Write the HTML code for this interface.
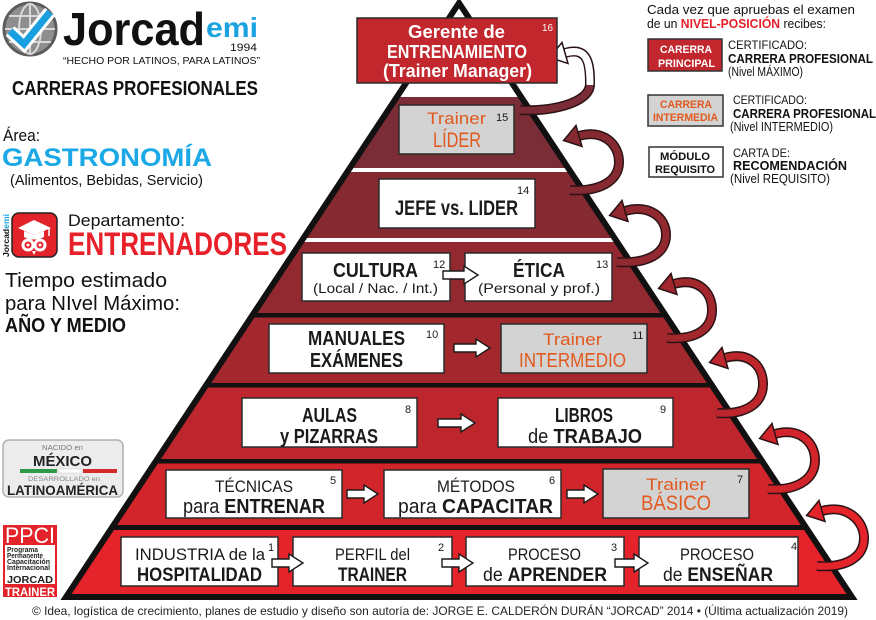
<!DOCTYPE html>
<html><head><meta charset="utf-8">
<style>
html,body{margin:0;padding:0;background:#fff;}
svg{display:block;}
text{font-family:"Liberation Sans",sans-serif;}
</style></head><body>
<svg width="876" height="620" viewBox="0 0 876 620" xmlns="http://www.w3.org/2000/svg">
<defs>
<clipPath id="tri"><polygon points="459,3 66,597 852,597"/></clipPath>
</defs>
<rect width="876" height="620" fill="#fff"/>

<!-- ============ PYRAMID ============ -->
<g clip-path="url(#tri)">
<rect x="0" y="97" width="876" height="73" fill="#7a2d36"/>
<rect x="0" y="170" width="876" height="70" fill="#862a32"/>
<rect x="0" y="240" width="876" height="75" fill="#932930"/>
<rect x="0" y="315" width="876" height="70" fill="#a3282e"/>
<rect x="0" y="385" width="876" height="76" fill="#bd262c"/>
<rect x="0" y="461" width="876" height="67" fill="#d2252b"/>
<rect x="0" y="528" width="876" height="72" fill="#e5232a"/>
<rect x="0" y="168" width="876" height="4" fill="#fff"/>
<rect x="0" y="238" width="876" height="4" fill="#fff"/>
<rect x="0" y="313" width="876" height="4.5" fill="#111"/>
<rect x="0" y="383" width="876" height="4.5" fill="#111"/>
<rect x="0" y="459" width="876" height="4.5" fill="#111"/>
<rect x="0" y="525" width="876" height="5" fill="#111"/>
</g>
<polygon points="459,3 66,597 852,597" fill="none" stroke="#111" stroke-width="6" stroke-linejoin="miter"/>

<!-- ============ CURVED ARROWS ============ -->
<g fill="none" stroke-linecap="butt">
<!-- arrow 1 -->
<path d="M520 110 C548 112 590 104 590 84" stroke="#2a1215" stroke-width="10"/>
<path d="M520 110 C548 112 590 104 590 84" stroke="#7a2d36" stroke-width="7"/>
<path d="M590 84 C590 66 589 46 565 53" stroke="#2a1215" stroke-width="10"/>
<path d="M590 85 C590 66 589 46 565 53" stroke="#fff" stroke-width="7"/>
<!-- arrow 2 -->
<path d="M570 190 C598 192 619 182 619 162 C619 144 603 129 579 136" stroke="#2a1215" stroke-width="10"/>
<path d="M570 190 C598 192 619 182 619 162 C619 144 603 129 579 136" stroke="#862a32" stroke-width="7"/>
<!-- arrow 3 -->
<path d="M617 262 C645 264 666 255 666 235 C666 217 649 204 625 211" stroke="#2a1215" stroke-width="10"/>
<path d="M617 262 C645 264 666 255 666 235 C666 217 649 204 625 211" stroke="#932930" stroke-width="7"/>
<!-- arrow 4 -->
<path d="M667 338 C695 340 712 330 712 310 C712 292 698 277 674 284" stroke="#2a1215" stroke-width="10"/>
<path d="M667 338 C695 340 712 330 712 310 C712 292 698 277 674 284" stroke="#a3282e" stroke-width="7"/>
<!-- arrow 5 -->
<path d="M717 413 C745 415 763 404 763 384 C763 366 749 351 725 358" stroke="#2a1215" stroke-width="10"/>
<path d="M717 413 C745 415 763 404 763 384 C763 366 749 351 725 358" stroke="#bd262c" stroke-width="7"/>
<!-- arrow 6 -->
<path d="M768 489 C796 491 815 480 815 460 C815 442 799 427 775 434" stroke="#2a1215" stroke-width="10"/>
<path d="M768 489 C796 491 815 480 815 460 C815 442 799 427 775 434" stroke="#d2252b" stroke-width="7"/>
<!-- arrow 7 -->
<path d="M817 566 C845 568 864 558 864 538 C864 520 846 504 822 511" stroke="#2a1215" stroke-width="10"/>
<path d="M817 566 C845 568 864 558 864 538 C864 520 846 504 822 511" stroke="#e5232a" stroke-width="7"/>
</g>
<g stroke="#2a1215" stroke-width="1.5" stroke-linejoin="miter">
<polygon points="549.6,57.5 562,42.5 568,63.5" fill="#fff"/>
<polygon points="563.6,140.5 576,125.5 582,146.5" fill="#862a32"/>
<polygon points="609.6,215.5 622,200.5 628,221.5" fill="#932930"/>
<polygon points="658.6,288.5 671,273.5 677,294.5" fill="#a3282e"/>
<polygon points="709.6,362.5 722,347.5 728,368.5" fill="#bd262c"/>
<polygon points="759.6,438.5 772,423.5 778,444.5" fill="#d2252b"/>
<polygon points="806.6,515.5 819,500.5 825,521.5" fill="#e5232a"/>
</g>

<!-- ============ BOXES ============ -->
<g stroke="#2b2b2b" stroke-width="1.5">
<rect x="357" y="18" width="200" height="65" fill="#c1272d"/>
<rect x="399" y="105" width="115" height="49" fill="#d3d3d3"/>
<rect x="379" y="179" width="156" height="49" fill="#fff"/>
<rect x="302" y="253" width="148" height="48" fill="#fff"/>
<rect x="465" y="253" width="147" height="48" fill="#fff"/>
<rect x="269" y="324" width="175" height="49" fill="#fff"/>
<rect x="501" y="324" width="146" height="49" fill="#d3d3d3"/>
<rect x="242" y="398" width="175" height="49" fill="#fff"/>
<rect x="498" y="398" width="175" height="49" fill="#fff"/>
<rect x="166" y="470" width="176" height="48" fill="#fff"/>
<rect x="384" y="470" width="177" height="48" fill="#fff"/>
<rect x="603" y="469" width="146" height="49" fill="#d3d3d3"/>
<rect x="121" y="537" width="157" height="49" fill="#fff"/>
<rect x="293" y="537" width="159" height="49" fill="#fff"/>
<rect x="466" y="537" width="158" height="49" fill="#fff"/>
<rect x="639" y="537" width="159" height="49" fill="#fff"/>
</g>

<!-- straight arrows -->
<g fill="#fff" stroke="#1a1a1a" stroke-width="1.4" stroke-linejoin="miter">
<polygon points="443,271 464,271 464,266 478,275 464,284 464,279 443,279"/>
<polygon points="454,344 476,344 476,339 490,348 476,357 476,352 454,352"/>
<polygon points="438,419 461,419 461,414 475,423 461,432 461,427 438,427"/>
<polygon points="347,490 364,490 364,485 378,494 364,503 364,498 347,498"/>
<polygon points="567,490 584,490 584,485 598,494 584,503 584,498 567,498"/>
<polygon points="272,559 289,559 289,554 303,563 289,572 289,567 272,567"/>
<polygon points="442,559 459,559 459,554 473,563 459,572 459,567 442,567"/>
<polygon points="615,559 634,559 634,554 648,563 634,572 634,567 615,567"/>
</g>

<!-- box texts -->
<g fill="#fff" font-weight="bold" font-size="18">
<text x="408" y="38" textLength="97" lengthAdjust="spacingAndGlyphs">Gerente de</text>
<text x="387" y="58" textLength="140" lengthAdjust="spacingAndGlyphs">ENTRENAMIENTO</text>
<text x="383" y="77" textLength="149" lengthAdjust="spacingAndGlyphs">(Trainer Manager)</text>
<text x="542" y="31" font-size="10" font-weight="normal" textLength="11" lengthAdjust="spacingAndGlyphs">16</text>
</g>

<g fill="#e2591e">
<text x="427" y="124" font-size="17" textLength="59" lengthAdjust="spacingAndGlyphs">Trainer</text>
<text x="433" y="147" font-size="21" textLength="48" lengthAdjust="spacingAndGlyphs">LÍDER</text>
<text x="543" y="345" font-size="17" textLength="59" lengthAdjust="spacingAndGlyphs">Trainer</text>
<text x="519" y="367" font-size="20" textLength="107" lengthAdjust="spacingAndGlyphs">INTERMEDIO</text>
<text x="646" y="490" font-size="17" textLength="60" lengthAdjust="spacingAndGlyphs">Trainer</text>
<text x="641" y="510" font-size="21" textLength="70" lengthAdjust="spacingAndGlyphs">BÁSICO</text>
</g>

<g fill="#1a1a1a">
<text x="395" y="215" font-size="21" font-weight="bold" textLength="123" lengthAdjust="spacingAndGlyphs">JEFE vs. LIDER</text>

<text x="333" y="277" font-size="20" font-weight="bold" textLength="85" lengthAdjust="spacingAndGlyphs">CULTURA</text>
<text x="313" y="293" font-size="14" textLength="125" lengthAdjust="spacingAndGlyphs">(Local / Nac. / Int.)</text>
<text x="513" y="277" font-size="20" font-weight="bold" textLength="52" lengthAdjust="spacingAndGlyphs">ÉTICA</text>
<text x="478" y="293" font-size="14" textLength="122" lengthAdjust="spacingAndGlyphs">(Personal y prof.)</text>

<text x="308" y="345" font-size="20" font-weight="bold" textLength="97" lengthAdjust="spacingAndGlyphs">MANUALES</text>
<text x="310" y="367" font-size="20" font-weight="bold" textLength="93" lengthAdjust="spacingAndGlyphs">EXÁMENES</text>

<text x="302" y="422" font-size="20" font-weight="bold" textLength="55" lengthAdjust="spacingAndGlyphs">AULAS</text>
<text x="280" y="443" font-size="20" font-weight="bold" textLength="98" lengthAdjust="spacingAndGlyphs">y PIZARRAS</text>
<text x="555" y="422" font-size="20" font-weight="bold" textLength="58" lengthAdjust="spacingAndGlyphs">LIBROS</text>
<text x="528" y="443" font-size="20" textLength="114" lengthAdjust="spacingAndGlyphs">de <tspan font-weight="bold">TRABAJO</tspan></text>

<text x="215" y="492" font-size="17" textLength="78" lengthAdjust="spacingAndGlyphs">TÉCNICAS</text>
<text x="183" y="513" font-size="20" textLength="142" lengthAdjust="spacingAndGlyphs">para <tspan font-weight="bold">ENTRENAR</tspan></text>
<text x="437" y="492" font-size="17" textLength="78" lengthAdjust="spacingAndGlyphs">MÉTODOS</text>
<text x="398" y="513" font-size="20" textLength="155" lengthAdjust="spacingAndGlyphs">para <tspan font-weight="bold">CAPACITAR</tspan></text>

<text x="135" y="560" font-size="17" textLength="130" lengthAdjust="spacingAndGlyphs">INDUSTRIA de la</text>
<text x="137" y="581" font-size="19" font-weight="bold" textLength="125" lengthAdjust="spacingAndGlyphs">HOSPITALIDAD</text>
<text x="335" y="560" font-size="17" textLength="75" lengthAdjust="spacingAndGlyphs">PERFIL del</text>
<text x="338" y="581" font-size="19" font-weight="bold" textLength="69" lengthAdjust="spacingAndGlyphs">TRAINER</text>
<text x="508" y="560" font-size="17" textLength="73" lengthAdjust="spacingAndGlyphs">PROCESO</text>
<text x="483" y="581" font-size="19" textLength="124" lengthAdjust="spacingAndGlyphs">de <tspan font-weight="bold">APRENDER</tspan></text>
<text x="680" y="560" font-size="17" textLength="74" lengthAdjust="spacingAndGlyphs">PROCESO</text>
<text x="663" y="581" font-size="19" textLength="110" lengthAdjust="spacingAndGlyphs">de <tspan font-weight="bold">ENSEÑAR</tspan></text>
</g>

<!-- numbers -->
<g fill="#1a1a1a" font-size="11">
<text x="496" y="121">15</text>
<text x="517" y="194">14</text>
<text x="433" y="268">12</text>
<text x="596" y="268">13</text>
<text x="426" y="338">10</text>
<text x="632" y="339">11</text>
<text x="405" y="413">8</text>
<text x="660" y="413">9</text>
<text x="330" y="484">5</text>
<text x="549" y="484">6</text>
<text x="737" y="483">7</text>
<text x="268" y="551">1</text>
<text x="438" y="551">2</text>
<text x="611" y="551">3</text>
<text x="791" y="550">4</text>
</g>

<!-- ============ LOGO ============ -->
<circle cx="30" cy="29" r="26" fill="#8e8e8e" stroke="#5c5c5c" stroke-width="3"/>
<g fill="none" stroke="#d8d8d8" stroke-width="2">
<ellipse cx="30" cy="29" rx="11" ry="25"/>
<line x1="5" y1="29" x2="55" y2="29"/>
<line x1="9" y1="16" x2="51" y2="16"/>
<line x1="9" y1="42" x2="51" y2="42"/>
<line x1="30" y1="4" x2="30" y2="54"/>
</g>
<polyline points="10,31 24,44 50,12" fill="none" stroke="#fff" stroke-width="13" stroke-linejoin="miter"/>
<polyline points="10,31 24,44 50,12" fill="none" stroke="#1a9fe0" stroke-width="7" stroke-linejoin="miter"/>
<text x="63" y="45" font-size="46" font-weight="bold" fill="#111" textLength="142" lengthAdjust="spacingAndGlyphs">Jorcad</text>
<text x="206" y="37" font-size="28" font-weight="bold" fill="#1aa3e0" textLength="52" lengthAdjust="spacingAndGlyphs">emi</text>
<text x="230" y="51" font-size="11" fill="#111" textLength="27" lengthAdjust="spacingAndGlyphs">1994</text>
<text x="63" y="64" font-size="10.5" fill="#111" textLength="197" lengthAdjust="spacingAndGlyphs">“HECHO POR LATINOS, PARA LATINOS”</text>
<text x="12" y="95" font-size="20" font-weight="bold" fill="#111" textLength="246" lengthAdjust="spacingAndGlyphs">CARRERAS PROFESIONALES</text>

<text x="3" y="141" font-size="17" fill="#111" textLength="37" lengthAdjust="spacingAndGlyphs">Área:</text>
<text x="2" y="166" font-size="25" font-weight="bold" fill="#1aa8e6" textLength="210" lengthAdjust="spacingAndGlyphs">GASTRONOMÍA</text>
<text x="10" y="185" font-size="15" fill="#111" textLength="193" lengthAdjust="spacingAndGlyphs">(Alimentos, Bebidas, Servicio)</text>

<!-- dept icon -->
<text transform="translate(9,257) rotate(-90)" font-size="8" font-weight="bold" fill="#111" textLength="43" lengthAdjust="spacingAndGlyphs">Jorcad<tspan fill="#1aa3e0">emi</tspan></text>
<rect x="12" y="213" width="45" height="44" rx="7" fill="#e3232a" stroke="#222" stroke-width="1.5"/>
<polygon points="18,228 34,220 51,228 34,235" fill="#fff"/>
<path d="M24 231 L24 237 Q34 242 44 237 L44 231 L34 235 Z" fill="#fff"/>
<line x1="49" y1="228" x2="49" y2="236" stroke="#fff" stroke-width="1.5"/>
<circle cx="28" cy="245" r="6.5" fill="#fff"/>
<circle cx="40" cy="245" r="6.5" fill="#fff"/>
<circle cx="28" cy="245" r="3.5" fill="#e3232a"/>
<circle cx="40" cy="245" r="3.5" fill="#e3232a"/>
<circle cx="28" cy="245" r="1.5" fill="#fff"/>
<circle cx="40" cy="245" r="1.5" fill="#fff"/>
<polygon points="32,251 36,251 34,255" fill="#fff"/>

<text x="68" y="226" font-size="17" fill="#111" textLength="117" lengthAdjust="spacingAndGlyphs">Departamento:</text>
<text x="68" y="255" font-size="32" font-weight="bold" fill="#e8202a" textLength="219" lengthAdjust="spacingAndGlyphs">ENTRENADORES</text>
<text x="5" y="287" font-size="20" fill="#111" textLength="162" lengthAdjust="spacingAndGlyphs">Tiempo estimado</text>
<text x="5" y="310" font-size="20" fill="#111" textLength="175" lengthAdjust="spacingAndGlyphs">para NIvel Máximo:</text>
<text x="5" y="332" font-size="20" font-weight="bold" fill="#111" textLength="121" lengthAdjust="spacingAndGlyphs">AÑO Y MEDIO</text>

<!-- Mexico badge -->
<rect x="3" y="440" width="120" height="57" rx="6" fill="#ececec" stroke="#b0b0b0" stroke-width="1.5"/>
<text x="42" y="450" font-size="7" fill="#777" textLength="41" lengthAdjust="spacingAndGlyphs">NACIDO en</text>
<text x="33" y="466" font-size="15" font-weight="bold" fill="#222" textLength="59" lengthAdjust="spacingAndGlyphs">MÉXICO</text>
<rect x="20" y="469" width="37" height="4" fill="#2e9a48"/>
<rect x="59" y="469" width="23" height="4" fill="#fff" stroke="#ccc" stroke-width="0.5"/>
<rect x="83" y="469" width="34" height="4" fill="#d42a2a"/>
<text x="28" y="481" font-size="6.5" fill="#888" textLength="72" lengthAdjust="spacingAndGlyphs">DESARROLLADO en</text>
<text x="7" y="495" font-size="14" font-weight="bold" fill="#222" textLength="111" lengthAdjust="spacingAndGlyphs">LATINOAMÉRICA</text>

<!-- PPCI badge -->
<rect x="3" y="525" width="54" height="72" fill="#e3232a"/>
<text x="5" y="543" font-size="22" fill="#fff" textLength="50" lengthAdjust="spacingAndGlyphs">PPCI</text>
<rect x="5" y="545" width="50" height="39" fill="#fff"/>
<g fill="#222" font-size="7" font-weight="bold">
<text x="7" y="552" textLength="31" lengthAdjust="spacingAndGlyphs">Programa</text>
<text x="7" y="558" textLength="36" lengthAdjust="spacingAndGlyphs">Permanente</text>
<text x="7" y="564" textLength="43" lengthAdjust="spacingAndGlyphs">Capacitación</text>
<text x="7" y="570" textLength="43" lengthAdjust="spacingAndGlyphs">Internacional</text>
<text x="7" y="583" font-size="10" textLength="46" lengthAdjust="spacingAndGlyphs">JORCAD</text>
</g>
<text x="5" y="596" font-size="12" font-weight="bold" fill="#fff" textLength="50" lengthAdjust="spacingAndGlyphs">TRAINER</text>

<!-- ============ LEGEND ============ -->
<text x="647" y="14" font-size="13" fill="#111" textLength="208" lengthAdjust="spacingAndGlyphs">Cada vez que apruebas el examen</text>
<text x="647" y="28" font-size="13" fill="#111" textLength="179" lengthAdjust="spacingAndGlyphs">de un <tspan font-weight="bold" fill="#e8202a">NIVEL-POSICIÓN</tspan> recibes:</text>

<rect x="648" y="39" width="74" height="32" fill="#c1272d" stroke="#333" stroke-width="1.5"/>
<text x="660" y="53" font-size="11" font-weight="bold" fill="#fff" textLength="52" lengthAdjust="spacingAndGlyphs">CARERRA</text>
<text x="658" y="67" font-size="11" font-weight="bold" fill="#fff" textLength="57" lengthAdjust="spacingAndGlyphs">PRINCIPAL</text>
<text x="728" y="49" font-size="12" fill="#111" textLength="79" lengthAdjust="spacingAndGlyphs">CERTIFICADO:</text>
<text x="728" y="63" font-size="13" font-weight="bold" fill="#111" textLength="145" lengthAdjust="spacingAndGlyphs">CARRERA PROFESIONAL</text>
<text x="728" y="76" font-size="12.5" fill="#111" textLength="75" lengthAdjust="spacingAndGlyphs">(Nivel MÁXIMO)</text>

<rect x="648" y="95" width="75" height="31" fill="#d3d3d3" stroke="#333" stroke-width="1.5"/>
<text x="660" y="108" font-size="11" font-weight="bold" fill="#e2591e" textLength="52" lengthAdjust="spacingAndGlyphs">CARRERA</text>
<text x="653" y="121" font-size="11" font-weight="bold" fill="#e2591e" textLength="65" lengthAdjust="spacingAndGlyphs">INTERMEDIA</text>
<text x="733" y="104" font-size="12" fill="#111" textLength="74" lengthAdjust="spacingAndGlyphs">CERTIFICADO:</text>
<text x="733" y="118" font-size="13" font-weight="bold" fill="#111" textLength="143" lengthAdjust="spacingAndGlyphs">CARRERA PROFESIONAL</text>
<text x="730" y="131" font-size="12.5" fill="#111" textLength="103" lengthAdjust="spacingAndGlyphs">(Nivel INTERMEDIO)</text>

<rect x="649" y="147" width="74" height="30" fill="#fff" stroke="#333" stroke-width="1.5"/>
<text x="660" y="160" font-size="11" font-weight="bold" fill="#111" textLength="50" lengthAdjust="spacingAndGlyphs">MÓDULO</text>
<text x="655" y="173" font-size="11" font-weight="bold" fill="#111" textLength="60" lengthAdjust="spacingAndGlyphs">REQUISITO</text>
<text x="733" y="157" font-size="12" fill="#111" textLength="57" lengthAdjust="spacingAndGlyphs">CARTA DE:</text>
<text x="733" y="170" font-size="13" font-weight="bold" fill="#111" textLength="114" lengthAdjust="spacingAndGlyphs">RECOMENDACIÓN</text>
<text x="730" y="183" font-size="12.5" fill="#111" textLength="100" lengthAdjust="spacingAndGlyphs">(Nivel REQUISITO)</text>

<!-- footer -->
<text x="32" y="615" font-size="12" fill="#222" textLength="816" lengthAdjust="spacingAndGlyphs">© Idea, logística de crecimiento, planes de estudio y diseño son autoría de: JORGE E. CALDERÓN DURÁN “JORCAD” 2014 • (Última actualización 2019)</text>
</svg>
</body></html>
